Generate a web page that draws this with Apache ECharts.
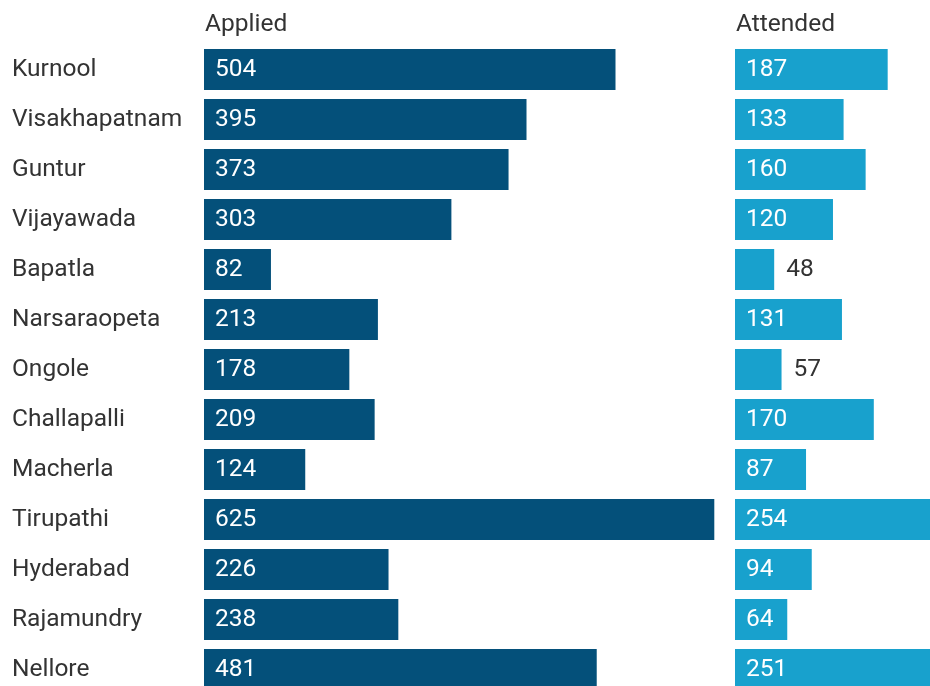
<!DOCTYPE html>
<html>
<head>
<meta charset="utf-8">
<script src="https://cdn.jsdelivr.net/npm/echarts@6/dist/echarts.min.js"></script>
<style>
  html, body { margin: 0; padding: 0; background: #fff; }
  #chart { width: 930px; height: 686px; }
</style>
</head>
<body>
<div id="chart"></div>
<script>
var cities = ['Kurnool', 'Visakhapatnam', 'Guntur', 'Vijayawada', 'Bapatla', 'Narsaraopeta',
  'Ongole', 'Challapalli', 'Macherla', 'Tirupathi', 'Hyderabad', 'Rajamundry', 'Nellore'];
var applied = [504, 395, 373, 303, 82, 213, 178, 209, 124, 625, 226, 238, 481];
var attended = [187, 133, 160, 120, 48, 131, 57, 170, 87, 254, 94, 64, 251];

var FONT = 'Roboto';
var FS = 24.5;
var scaleMax = 625;

// small bars get their number outside the bar
function labelled(values) {
  return values.map(function (v) {
    if (v < 60) {
      return { value: v, label: { position: 'right', distance: 12, color: '#333' } };
    }
    return v;
  });
}

var myChart = echarts.init(document.getElementById('chart'));
var option = {
  animation: false,
  textStyle: { fontFamily: FONT },
  title: [
    { text: 'Applied', left: 205, top: 12, padding: 0, textStyle: { fontFamily: FONT, fontSize: FS, fontWeight: 'normal', color: '#333' } },
    { text: 'Attended', left: 736, top: 12, padding: 0, textStyle: { fontFamily: FONT, fontSize: FS, fontWeight: 'normal', color: '#333' } }
  ],
  grid: [
    { left: 204, top: 44.5, width: 510.3, height: 650, outerBoundsMode: 'none', containLabel: false },
    { left: 735, top: 44.5, width: 510.3, height: 650, outerBoundsMode: 'none', containLabel: false }
  ],
  xAxis: [
    { gridIndex: 0, type: 'value', min: 0, max: scaleMax, show: false },
    { gridIndex: 1, type: 'value', min: 0, max: scaleMax, show: false }
  ],
  yAxis: [
    {
      gridIndex: 0, type: 'category', data: cities, inverse: true,
      axisLine: { show: false }, axisTick: { show: false },
      axisLabel: { align: 'left', margin: 192, fontFamily: FONT, fontSize: FS, color: '#333' }
    },
    {
      gridIndex: 1, type: 'category', data: cities, inverse: true,
      axisLine: { show: false }, axisTick: { show: false }, axisLabel: { show: false }
    }
  ],
  series: [
    {
      name: 'Applied', type: 'bar', xAxisIndex: 0, yAxisIndex: 0,
      barWidth: 41,
      itemStyle: { color: '#04507a' },
      label: { show: true, position: 'insideLeft', distance: 11, color: '#fff', fontFamily: FONT, fontSize: FS },
      data: labelled(applied)
    },
    {
      name: 'Attended', type: 'bar', xAxisIndex: 1, yAxisIndex: 1,
      barWidth: 41,
      itemStyle: { color: '#18a1cd' },
      label: { show: true, position: 'insideLeft', distance: 11, color: '#fff', fontFamily: FONT, fontSize: FS },
      data: labelled(attended)
    }
  ]
};
myChart.setOption(option);
window.addEventListener('resize', function () { myChart.resize(); });
</script>
</body>
</html>
